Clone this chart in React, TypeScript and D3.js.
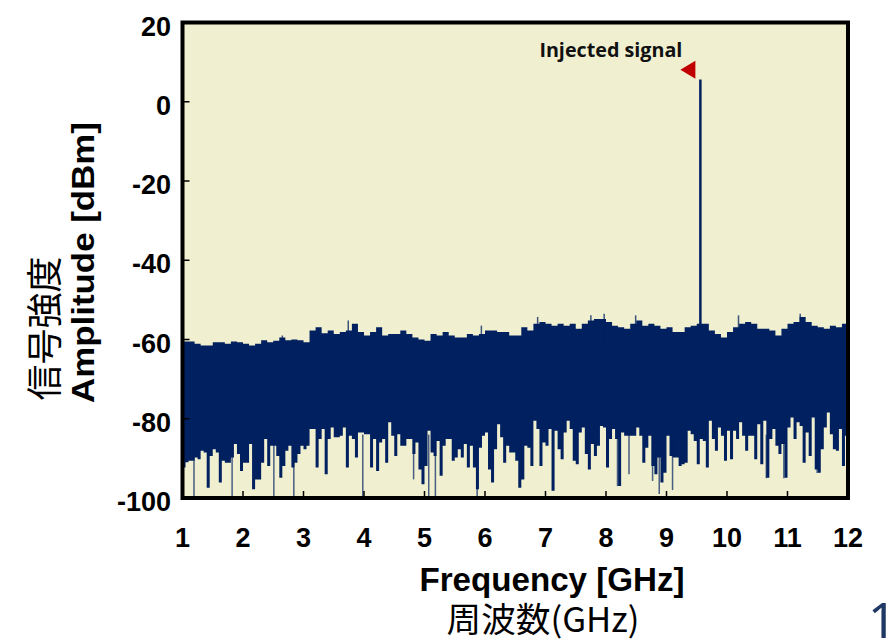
import React, { useEffect, useRef } from 'react';
import * as d3 from 'd3';

// axes
const xTicks = [1, 2, 3, 4, 5, 6, 7, 8, 9, 10, 11, 12];
const yTicks = [20, 0, -20, -40, -60, -80, -100];

// top edge of the noise floor (dBm), read every 0.1 GHz starting at 1 GHz
const upperStart = 1;
const upperStep = 0.1;
const upperDbm = [
  -60.5, -60.5, -61.1, -61.5, -61.5, -60.7, -60.7, -61.1, -60.5, -60.7,
  -61.1, -61.5, -61.1, -60.2, -60.7, -60.3, -59.5, -60.2, -60.0, -60.2,
  -60.7, -57.7, -56.9, -58.4, -57.7, -58.6, -58.1, -57.7, -56.0, -58.1,
  -59.0, -58.1, -56.9, -59.0, -58.6, -58.6, -57.7, -58.6, -59.5, -60.0,
  -60.3, -58.6, -59.0, -58.1, -59.0, -59.5, -59.5, -58.6, -59.0, -58.6,
  -57.7, -57.7, -58.1, -58.1, -59.0, -59.0, -56.9, -57.7, -56.0, -55.6,
  -56.0, -56.5, -56.0, -56.5, -56.0, -57.3, -56.0, -55.2, -54.8, -54.8,
  -55.6, -56.5, -56.9, -57.3, -56.0, -55.2, -56.5, -56.0, -56.5, -57.3,
  -56.9, -58.1, -58.1, -56.9, -56.5, -56.0, -56.0, -57.7, -58.6, -59.5,
  -58.1, -56.9, -56.0, -55.6, -56.0, -57.3, -57.3, -57.7, -59.0, -57.3,
  -56.0, -55.6, -54.3, -55.6, -56.5, -56.9, -57.3, -56.5, -56.9, -56.0, -56.9,
];

// bottom edge of the dense noise (dBm), read every 0.05 GHz starting at 1 GHz
const lowerStart = 1;
const lowerStep = 0.05;
const lowerDbm = [
  -92.3, -91.0, -90.6, -90.6, -89.8, -90.2, -88.1, -88.5, -97.4, -89.4,
  -87.7, -88.5, -96.1, -90.6, -91.1, -91.1, -89.8, -86.4, -88.9, -93.2,
  -91.1, -91.1, -86.4, -97.8, -95.3, -95.3, -91.1, -85.1, -91.9, -86.8,
  -86.8, -89.4, -94.9, -91.9, -88.1, -86.8, -92.3, -91.1, -88.9, -86.8,
  -87.7, -86.8, -82.6, -82.6, -92.3, -85.1, -82.6, -94.0, -85.1, -82.2,
  -84.7, -84.7, -84.3, -82.2, -92.3, -84.3, -85.1, -89.8, -83.5, -83.5,
  -83.9, -83.9, -92.3, -85.1, -93.2, -86.0, -85.1, -91.1, -80.9, -84.3,
  -89.4, -83.9, -86.8, -86.8, -85.1, -85.1, -88.9, -86.0, -92.8, -96.5,
  -91.9, -83.0, -88.5, -89.4, -85.6, -94.4, -86.8, -85.1, -85.1, -90.6,
  -89.8, -87.7, -89.8, -86.4, -92.3, -86.8, -92.3, -97.8, -87.3, -84.3,
  -83.5, -92.8, -96.1, -87.7, -81.4, -84.7, -91.1, -86.8, -88.5, -88.5,
  -90.6, -97.4, -95.3, -86.8, -87.3, -91.9, -80.5, -82.6, -91.9, -86.0,
  -86.8, -82.6, -98.2, -83.0, -87.7, -90.2, -83.5, -80.5, -82.6, -90.6,
  -91.5, -83.5, -82.2, -88.9, -92.8, -86.4, -89.4, -86.8, -81.8, -82.2,
  -92.3, -85.1, -82.6, -85.1, -97.0, -83.5, -84.3, -84.3, -84.3, -84.3,
  -82.2, -84.3, -91.1, -87.3, -84.3, -91.9, -94.0, -89.8, -96.1, -93.6,
  -84.3, -89.4, -89.8, -89.8, -91.9, -91.5, -91.1, -83.0, -83.9, -85.6,
  -91.5, -85.1, -85.6, -92.3, -80.5, -85.1, -88.1, -82.2, -84.3, -90.6,
  -83.0, -90.2, -83.0, -85.1, -80.9, -84.3, -88.1, -84.3, -84.3, -90.2,
  -81.4, -91.5, -80.5, -94.9, -85.1, -82.6, -86.8, -88.9, -86.4, -94.9,
  -82.2, -79.7, -85.1, -80.9, -81.8, -91.1, -83.5, -89.4, -79.7, -92.8,
  -93.6, -87.7, -82.2, -78.4, -83.9, -87.7, -88.1, -82.6, -91.9, -84.3, -85.1,
];

// single noise lines sticking out of the band [GHz, dBm]
const upSpikes = [
  [2.65, -59.0], [3.74, -55.2], [5.94, -56.5], [6.87, -54.3], [7.75, -53.9],
  [7.97, -53.5], [8.49, -53.9], [10.19, -53.9], [11.21, -53.5],
];
const downSpikes = [
  [1.19, -99.5], [1.82, -100], [2.51, -100], [2.84, -99.5], [3.98, -100],
  [4.82, -95.3], [5.07, -100], [5.18, -100], [5.87, -100], [8.19, -97.0],
  [8.38, -94.0], [8.77, -95.7], [8.88, -99.0], [9.10, -98.0], [10.65, -95.0],
  [10.94, -95.0], [11.49, -93.7],
];

// the injected tone
const signalGHz = 9.56;
const signalDbm = 5.6;
const signalLabel = 'Injected signal';

const navy = '#002060';
const bold = '"Liberation Sans", Arial, sans-serif';

const App = () => {
  const ref = useRef<SVGSVGElement>(null);

  useEffect(() => {
    const svg = d3.select(ref.current);
    svg.selectAll('*').remove();

    const x = d3.scaleLinear().domain([1, 12]).range([182.5, 848]);
    const y = d3.scaleLinear().domain([-100, 20]).range([498, 22.5]);

    // plot background
    svg
      .append('rect')
      .attr('x', x(1))
      .attr('y', y(20))
      .attr('width', x(12) - x(1))
      .attr('height', y(-100) - y(20))
      .attr('fill', '#f0f0d0');

    svg
      .append('clipPath')
      .attr('id', 'plot')
      .append('rect')
      .attr('x', x(1))
      .attr('y', y(20))
      .attr('width', x(12) - x(1))
      .attr('height', y(-100) - y(20));

    const g = svg.append('g').attr('clip-path', 'url(#plot)');

    // noise band, upper half
    const upper = upperDbm.map((v, i) => ({ f: upperStart + i * upperStep, v }));
    const topArea = d3
      .area<{ f: number; v: number }>()
      .x((d) => x(d.f))
      .y0(y(-74))
      .y1((d) => y(d.v))
      .curve(d3.curveStepAfter);
    g.append('path').datum(upper).attr('d', topArea).attr('fill', navy);

    // noise band, lower half
    const lower = lowerDbm.map((v, i) => ({ f: lowerStart + i * lowerStep, v }));
    const bottomArea = d3
      .area<{ f: number; v: number }>()
      .x((d) => x(d.f))
      .y0((d) => y(d.v))
      .y1(y(-72))
      .curve(d3.curveStepAfter);
    g.append('path').datum(lower).attr('d', bottomArea).attr('fill', navy);

    g.selectAll('.up')
      .data(upSpikes)
      .join('line')
      .attr('x1', (d) => x(d[0]))
      .attr('x2', (d) => x(d[0]))
      .attr('y1', y(-62))
      .attr('y2', (d) => y(d[1]))
      .attr('stroke', navy)
      .attr('stroke-opacity', 0.75)
      .attr('stroke-width', 1.5);

    g.selectAll('.down')
      .data(downSpikes)
      .join('line')
      .attr('x1', (d) => x(d[0]))
      .attr('x2', (d) => x(d[0]))
      .attr('y1', y(-84))
      .attr('y2', (d) => y(d[1]))
      .attr('stroke', navy)
      .attr('stroke-opacity', 0.7)
      .attr('stroke-width', 1.5);

    // injected signal
    g.append('line')
      .attr('x1', x(signalGHz))
      .attr('x2', x(signalGHz))
      .attr('y1', y(-60))
      .attr('y2', y(signalDbm))
      .attr('stroke', navy)
      .attr('stroke-width', 2.5);

    const tx = x(signalGHz) - 5;
    const ty = y(signalDbm + 2.5);
    svg
      .append('path')
      .attr('d', `M${tx - 15},${ty} L${tx},${ty - 9} L${tx},${ty + 9} Z`)
      .attr('fill', '#c00000');

    svg
      .append('text')
      .attr('x', tx - 13)
      .attr('y', ty - 13)
      .attr('text-anchor', 'end')
      .attr('font-family', '"Open Sans", "Noto Sans", sans-serif')
      .attr('font-weight', 700)
      .attr('font-size', 20)
      .attr('textLength', 143)
      .attr('lengthAdjust', 'spacingAndGlyphs')
      .attr('fill', '#111')
      .text(signalLabel);

    // inner ticks
    svg
      .selectAll('.xt')
      .data(xTicks)
      .join('line')
      .attr('x1', (d) => x(d))
      .attr('x2', (d) => x(d))
      .attr('y1', y(-100))
      .attr('y2', y(-100) - 7)
      .attr('stroke', '#000')
      .attr('stroke-width', 1.5);

    svg
      .selectAll('.yt')
      .data(yTicks)
      .join('line')
      .attr('x1', x(1))
      .attr('x2', x(1) + 7)
      .attr('y1', (d) => y(d))
      .attr('y2', (d) => y(d))
      .attr('stroke', '#000')
      .attr('stroke-width', 1.5);

    // frame
    svg
      .append('rect')
      .attr('x', x(1))
      .attr('y', y(20))
      .attr('width', x(12) - x(1))
      .attr('height', y(-100) - y(20))
      .attr('fill', 'none')
      .attr('stroke', '#000')
      .attr('stroke-width', 4);

    // tick labels
    svg
      .selectAll('.xl')
      .data(xTicks)
      .join('text')
      .attr('x', (d) => x(d))
      .attr('y', 547)
      .attr('text-anchor', 'middle')
      .attr('font-family', bold)
      .attr('font-weight', 700)
      .attr('font-size', 27)
      .text((d) => d);

    svg
      .selectAll('.yl')
      .data(yTicks)
      .join('text')
      .attr('x', 171)
      .attr('y', (d) => y(d) + 13)
      .attr('text-anchor', 'end')
      .attr('font-family', bold)
      .attr('font-weight', 700)
      .attr('font-size', 27)
      .text((d) => d);

    // axis titles
    svg
      .append('text')
      .attr('x', 552)
      .attr('y', 591)
      .attr('text-anchor', 'middle')
      .attr('font-family', bold)
      .attr('font-weight', 700)
      .attr('font-size', 33)
      .attr('textLength', 265)
      .attr('lengthAdjust', 'spacingAndGlyphs')
      .text('Frequency [GHz]');

    svg
      .append('text')
      .attr('x', 543)
      .attr('y', 632)
      .attr('text-anchor', 'middle')
      .attr('font-family', '"Noto Sans CJK JP", sans-serif')
      .attr('font-size', 34)
      .attr('textLength', 193)
      .attr('lengthAdjust', 'spacingAndGlyphs')
      .text('周波数(GHz)');

    svg
      .append('text')
      .attr('transform', 'translate(94,262.5) rotate(-90)')
      .attr('text-anchor', 'middle')
      .attr('font-family', bold)
      .attr('font-weight', 700)
      .attr('font-size', 31)
      .attr('textLength', 281)
      .attr('lengthAdjust', 'spacingAndGlyphs')
      .text('Amplitude [dBm]');

    svg
      .append('text')
      .attr('transform', 'translate(42,328.5) rotate(-90)')
      .attr('text-anchor', 'middle')
      .attr('dominant-baseline', 'central')
      .attr('font-family', '"Noto Sans CJK JP", sans-serif')
      .attr('font-size', 36)
      .text('信号強度');

    // page number fragment
    svg
      .append('text')
      .attr('x', 868)
      .attr('y', 638)
      .attr('font-family', '"Noto Sans", sans-serif')
      .attr('font-size', 50)
      .attr('fill', '#1f3864')
      .text('1');
  });

  return (
    <div>
      <svg
        ref={ref}
        width={892}
        height={641}
        style={{ position: 'absolute', left: 0, top: 0, background: '#fff' }}
      ></svg>
    </div>
  );
};

export default App;
